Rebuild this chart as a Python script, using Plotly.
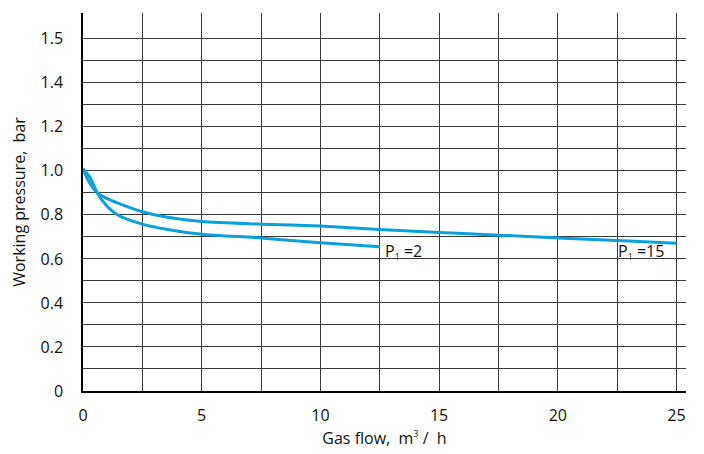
import plotly.graph_objects as go

# Data
flow_p15 = [0, 0.2, 0.4, 0.6, 1.0, 1.5, 2.5, 3.5, 5, 7.5, 10, 12.5, 15, 17.5, 20, 22.5, 25]
pres_p15 = [1.01, 0.96, 0.925, 0.9, 0.875, 0.852, 0.814, 0.79, 0.77, 0.758, 0.749, 0.734, 0.72, 0.708, 0.695, 0.684, 0.671]

flow_p2 = [0, 0.15, 0.3, 0.45, 0.6, 1.0, 1.5, 2.5, 3.5, 5, 7.5, 10, 12.5]
pres_p2 = [1.01, 0.99, 0.97, 0.935, 0.9, 0.84, 0.797, 0.758, 0.735, 0.712, 0.695, 0.673, 0.655]

x_tick_vals = [0, 5, 10, 15, 20, 25]
x_tick_text = ["0", "5", "10", "15", "20", "25"]
x_minor_vals = [2.5, 7.5, 12.5, 17.5, 22.5]

y_tick_vals = [0, 0.2, 0.4, 0.6, 0.8, 1.0, 1.2, 1.4, 1.6]
y_tick_text = ["0", "0.2", "0.4", "0.6", "0.8", "1.0", "1.2", "1.4", "1.5"]
y_minor_vals = [0.1, 0.3, 0.5, 0.7, 0.9, 1.1, 1.3, 1.5]

label_p2 = "P<sub><span style='font-size:9px'>1</span></sub> =2"
label_p15 = "P<sub><span style='font-size:9px'>1</span></sub> =15"

LINE = "#0aa0dc"
GRID = "#3a3a3a"
FONT = "Open Sans"

fig = go.Figure()
fig.add_trace(go.Scatter(x=flow_p15, y=pres_p15, mode="lines",
                         line=dict(color=LINE, width=3, shape="spline", smoothing=0.8),
                         showlegend=False, hoverinfo="skip"))
fig.add_trace(go.Scatter(x=flow_p2, y=pres_p2, mode="lines",
                         line=dict(color=LINE, width=3, shape="spline", smoothing=0.8),
                         showlegend=False, hoverinfo="skip"))

fig.add_annotation(x=flow_p2[-1] + 0.15, y=0.632, text=label_p2, showarrow=False,
                   xanchor="left", yanchor="middle", font=dict(family=FONT, size=16, color="#111"))
fig.add_annotation(x=22.45, y=0.632, text=label_p15, showarrow=False,
                   xanchor="left", yanchor="middle", font=dict(family=FONT, size=16, color="#111"))

fig.update_layout(
    width=696, height=446,
    margin=dict(l=75, r=18, t=5, b=63),
    paper_bgcolor="white", plot_bgcolor="white",
    font=dict(family=FONT, size=16, color="#111"),
    xaxis=dict(
        range=[0, 25.4], tickvals=x_tick_vals, ticktext=x_tick_text,
        showgrid=True, gridcolor=GRID, gridwidth=1,
        minor=dict(tickvals=x_minor_vals, showgrid=True, gridcolor=GRID, gridwidth=1),
        zeroline=False, showline=True, linecolor="#000", linewidth=1.5,
        ticks="", ticklabelstandoff=9, automargin=False,
        title=dict(text="Gas flow,  m<sup><span style='font-size:9px'>3</span></sup> /  h",
                   standoff=8, font=dict(size=16)),
        fixedrange=True,
    ),
    yaxis=dict(
        range=[0, 1.717], tickvals=y_tick_vals, ticktext=y_tick_text,
        showgrid=True, gridcolor=GRID, gridwidth=1,
        minor=dict(tickvals=y_minor_vals, showgrid=True, gridcolor=GRID, gridwidth=1),
        zeroline=False, showline=True, linecolor="#000", linewidth=1.5,
        ticks="", ticklabelstandoff=15, automargin=False,
        title=dict(text="Working pressure,  bar", standoff=12, font=dict(size=16)),
        fixedrange=True,
    ),
)

fig.write_html("out.html")
